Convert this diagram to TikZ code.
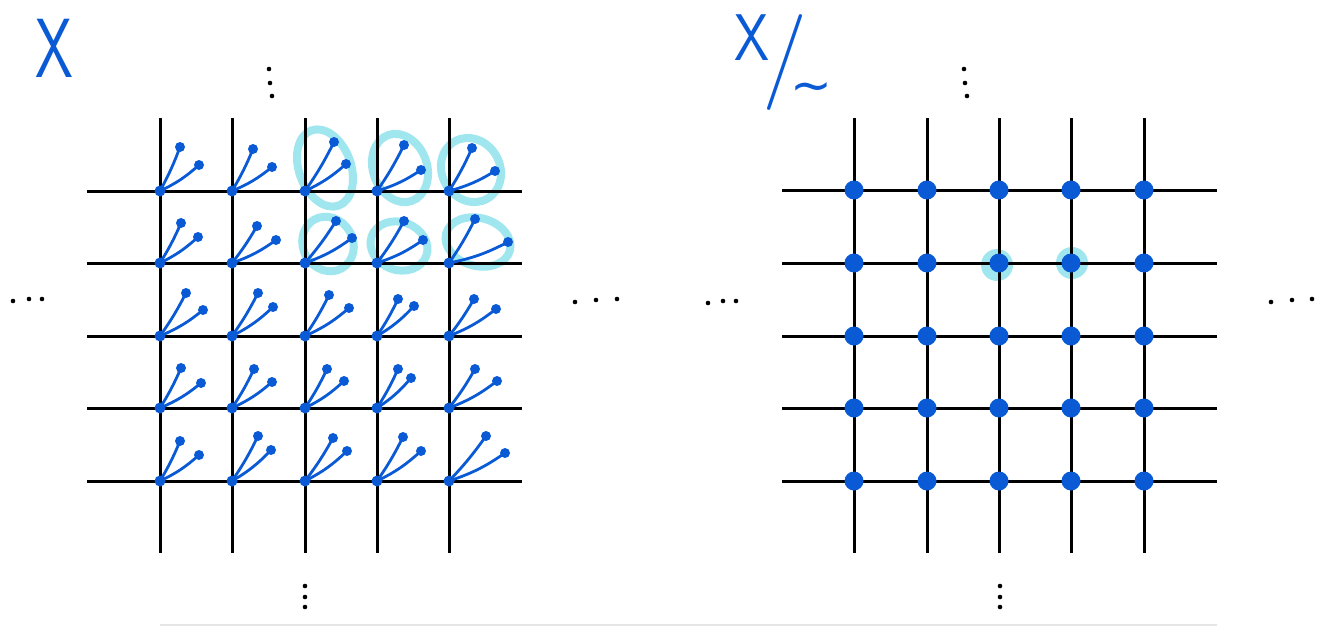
\documentclass[tikz,border=0pt]{standalone}
\usepackage{fontspec}
\newfontfamily\symfont{DejaVu Sans}
\begin{document}
\definecolor{ink}{HTML}{0A5AD6}
\definecolor{hl}{HTML}{A0E6EF}
\definecolor{rule}{HTML}{E6E6E6}
\tikzset{
  gridline/.style={black, line width=3pt},
  fanline/.style={ink, line width=2.8pt, line cap=round},
  fandot/.style={circle, fill=ink, inner sep=0pt, minimum size=10pt},
  vdot/.style={circle, fill=ink, inner sep=0pt, minimum size=11pt},
  bigdot/.style={circle, fill=ink, inner sep=0pt, minimum size=19pt},
  hlring/.style={hl, line width=8pt},
  hlspot/.style={circle, fill=hl, inner sep=0pt, minimum size=32pt},
  speck/.style={fill=black},
  handtext/.style={ink, inner sep=0pt, font=\sffamily}
}
\begin{tikzpicture}[x=1pt,y=-1pt]
\useasboundingbox (0,0) rectangle (1320,627);
% ---------- left highlights ----------
\draw[hlring, rotate around={20:(325,168)}] (325,168) ellipse [x radius=26, y radius=40];
\draw[hlring, rotate around={20:(400,168)}] (400,168) ellipse [x radius=27, y radius=35];
\draw[hlring, rotate around={30:(471,170)}] (471,170) ellipse [x radius=29, y radius=33];
\draw[hlring, rotate around={30:(328,244)}] (328,244) ellipse [x radius=25, y radius=28];
\draw[hlring, rotate around={-20:(399,246)}] (399,246) ellipse [x radius=29, y radius=24];
\draw[hlring, rotate around={-15:(478,242)}] (478,242) ellipse [x radius=33, y radius=24];
% ---------- right highlights ----------
\node[hlspot] (hA) at (997,265) {};
\node[hlspot] (hB) at (1072,263) {};
% ---------- grids ----------
\foreach \x in {160,232,305,377,449} \draw[gridline] (\x,118) -- (\x,553);
\foreach \y in {191,263,336,408,481} \draw[gridline] (87,\y) -- (522,\y);
\foreach \x in {854,927,999,1071,1144} \draw[gridline] (\x,118) -- (\x,553);
\foreach \y in {190,263,336,408,481} \draw[gridline] (782,\y) -- (1217,\y);
% ---------- left fans ----------
\foreach \x/\y/\ax/\ay/\bx/\by/\n in {
 160/191/20/-44/39/-26/a, 232/191/21/-42/40/-24/b, 305/191/29/-49/41/-27/c, 377/191/27/-46/44/-21/d, 449/191/23/-43/46/-20/e,
 160/263/21/-40/38/-26/f, 232/263/25/-37/44/-23/g, 305/263/31/-42/47/-25/h, 377/263/27/-42/46/-23/i, 449/263/26/-44/59/-21/j,
 160/336/26/-43/43/-26/k, 232/336/26/-43/41/-29/l, 305/336/24/-41/44/-28/m, 377/336/21/-37/37/-30/n, 449/336/25/-37/47/-27/o,
 160/408/21/-40/41/-25/p, 232/408/22/-39/40/-26/q, 305/408/22/-39/39/-27/r, 377/408/21/-39/34/-30/s, 449/408/26/-39/48/-27/t,
 160/481/20/-40/39/-26/u, 232/481/26/-45/39/-31/v, 305/481/28/-43/42/-30/w, 377/481/26/-44/44/-30/y, 449/481/37/-45/56/-28/z}
{
  \node[vdot] (L\n) at (\x,\y) {};
  \node[fandot] (L\n a) at ({\x+\ax},{\y+\ay}) {};
  \node[fandot] (L\n b) at ({\x+\bx},{\y+\by}) {};
  \draw[fanline] (L\n.center) to[bend right=4] (L\n a.center);
  \draw[fanline] (L\n.center) to[bend right=8] (L\n b.center);
}
% ---------- right dots ----------
\foreach \x in {854,927,999,1071,1144}
  \foreach \y in {190,263,336,408,481}
    \node[bigdot] (R\x-\y) at (\x,\y) {};
% ---------- labels ----------
\node[handtext, font=\sffamily\fontsize{84}{84}\selectfont, xscale=0.72] (labX) at (54,48) {X};
\node[handtext, font=\sffamily\fontsize{66}{66}\selectfont, xscale=0.85] (labQ) at (752,38) {X};
\node[handtext, font=\sffamily\fontsize{96}{96}\selectfont] (labS) at (785,62) {/};
\node[handtext, font=\symfont\fontsize{50}{50}\selectfont] (labT) at (811,93) {∼};
% ---------- ellipsis marks ----------
\foreach \p in {(269,69),(270,83),(272,96),(964,69),(965,83),(967,96),
                (305,586),(305,597),(305,607),(1000,586),(1000,597),(1000,607),
                (13,301),(29,299),(42,299),(575,302),(596,300),(617,299),
                (708,303),(723,301),(736,301),(1271,302),(1292,300),(1312,299)}
  \fill[speck] \p circle (2.3);
% ---------- bottom rule ----------
\draw[rule, line width=1.2pt] (160,625) -- (1217,625);
\end{tikzpicture}
\end{document}
